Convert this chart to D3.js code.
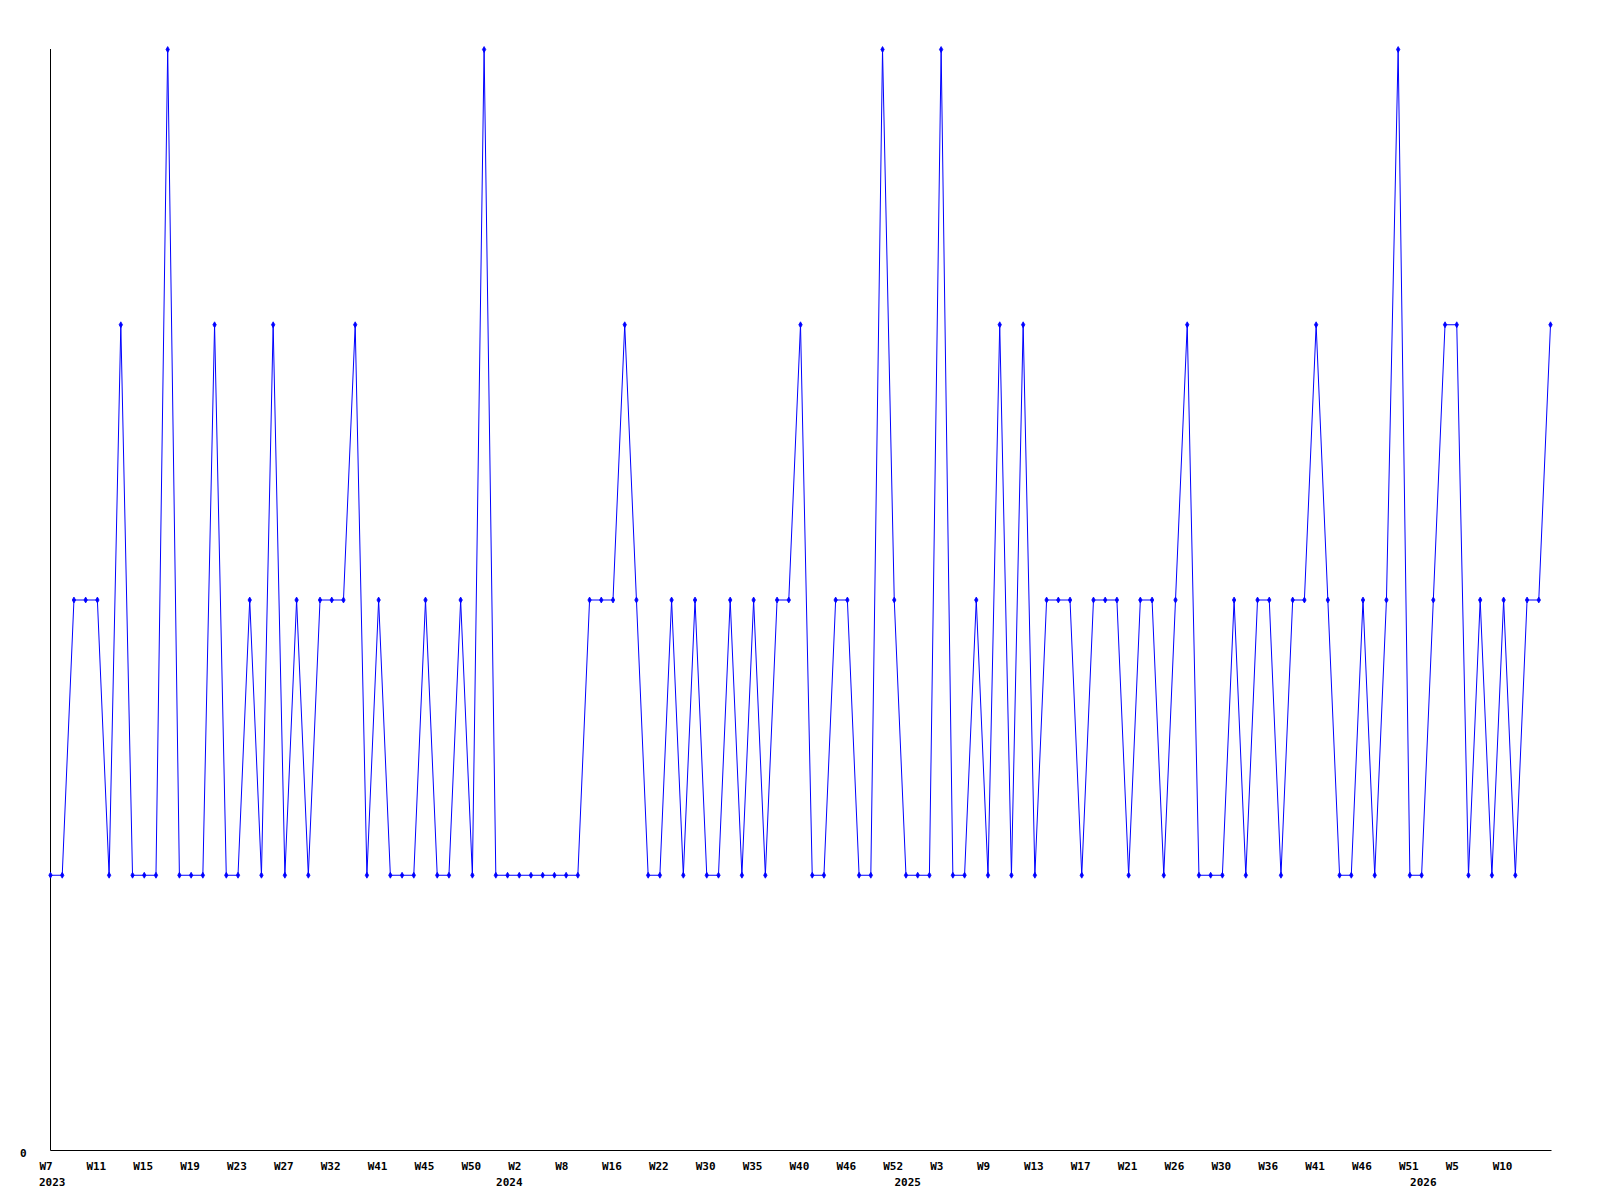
<!DOCTYPE html>
<html><head><meta charset="utf-8">
<script src="https://cdn.jsdelivr.net/npm/d3@7"></script>
<style>body{margin:0;background:#fff}svg{display:block}</style>
</head><body>
<svg id="chart" width="1600" height="1200"></svg>
<script>
// Weekly values, one per data point (129 points)
const values = [
1,1,2,2,2,1,3,1,1,1,4,1,1,1,3,1,1,2,1,3,
1,2,1,2,2,2,3,1,2,1,1,1,2,1,1,2,1,4,1,1,
1,1,1,1,1,1,2,2,2,3,2,1,1,2,1,2,1,1,2,1,
2,1,2,2,3,1,1,2,2,1,1,4,2,1,1,1,4,1,1,2,
1,3,1,3,1,2,2,2,1,2,2,2,1,2,2,1,2,3,1,1,
1,2,1,2,2,1,2,2,3,2,1,1,2,1,2,4,1,1,2,3,
3,1,2,1,2,1,2,2,3
];
// Tick labels, one every 4 points
const tickLabels = ["W7","W11","W15","W19","W23","W27","W32","W41","W45","W50",
"W2","W8","W16","W22","W30","W35","W40","W46","W52","W3",
"W9","W13","W17","W21","W26","W30","W36","W41","W46","W51","W5","W10"];
const tickStep = 4;
// Year labels and the point index where each year starts
const yearLabels = ["2023","2024","2025","2026"];
const yearStart = [0,39,73,117];
const yMax = 4;

const svg = d3.select("#chart");
const mLeft = 50, mRight = 1550, mTop = 49, mBottom = 1150;
const x = d3.scaleLinear().domain([0, values.length - 1]).range([mLeft, mRight]);
const y = d3.scaleLinear().domain([0, yMax]).range([mBottom, mTop]);
const font = "'DejaVu Sans Mono', monospace";

// axes
const xAxis = d3.axisBottom(x)
  .tickValues(tickLabels.map((_, i) => i * tickStep))
  .tickFormat((d, i) => tickLabels[i])
  .tickSize(0).tickPadding(0);
const gx = svg.append("g").attr("transform", `translate(0,${mBottom})`).call(xAxis);
gx.select(".domain").attr("d", `M${mLeft + 0.5},0.5H${mRight + 1.5}`).attr("stroke", "#000").attr("stroke-width", 1);
gx.selectAll("text").attr("text-anchor", "start").attr("dx", -11).attr("dy", 0).attr("y", 20)
  .attr("font-family", font).attr("font-size", 11).attr("font-weight", "bold").attr("fill", "#000");

const yAxis = d3.axisLeft(y).tickValues([0]).tickSize(0).tickPadding(0).tickFormat(d3.format("d"));
const gy = svg.append("g").attr("transform", `translate(${mLeft},0)`).call(yAxis);
gy.select(".domain").attr("d", `M0.5,${mTop}V${mBottom + 0.5}`).attr("stroke", "#000").attr("stroke-width", 1);
gy.selectAll("text").attr("text-anchor", "start").attr("x", -30).attr("dy", 0).attr("y", 6)
  .attr("font-family", font).attr("font-size", 11).attr("font-weight", "bold").attr("fill", "#000");

// year labels
svg.append("g").selectAll("text").data(yearLabels).join("text")
  .attr("x", (d, i) => x(yearStart[i]) - 11)
  .attr("y", mBottom + 36)
  .attr("font-family", font).attr("font-size", 11).attr("font-weight", "bold").attr("fill", "#000")
  .text(d => d);

// line
const line = d3.line().x((d, i) => x(i) + 0.5).y(d => y(d) + 0.5);
svg.append("path").datum(values).attr("d", line)
  .attr("fill", "none").attr("stroke", "#0000ff").attr("stroke-width", 1);

// markers
svg.append("g").selectAll("path").data(values).join("path")
  .attr("transform", (d, i) => `translate(${x(i) + 0.5},${y(d) + 0.5})`)
  .attr("d", d3.symbol().type(d3.symbolDiamond).size(10))
  .attr("fill", "#0000ff").attr("stroke", "#0000ff").attr("stroke-width", 0.8);
</script>
</body></html>
